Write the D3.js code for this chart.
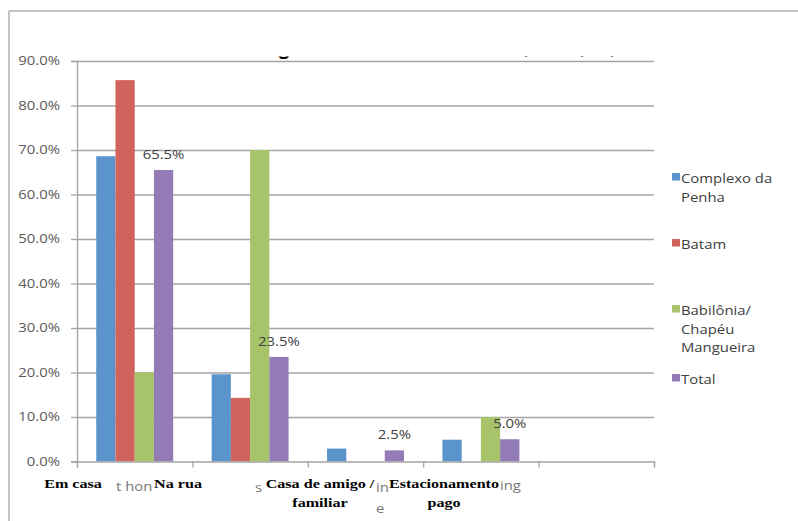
<!DOCTYPE html>
<html>
<head>
<meta charset="utf-8">
<script src="https://cdn.jsdelivr.net/npm/d3@7"></script>
<style>
  body { margin: 0; background: #fff; }
  svg { display: block; }
</style>
</head>
<body>
<div id="chart"></div>
<script>
const width = 798;
const height = 521;

// data (percent)
const categories = ["Em casa", "Na rua", "Casa de amigo / familiar", "Estacionamento pago", ""];
const seriesNames = ["Complexo da Penha", "Batam", "Babilônia/ Chapéu Mangueira", "Total"];
const complexo = [68.6, 19.6, 2.9, 4.9, 0];
const batam = [85.7, 14.3, 0, 0, 0];
const babilonia = [20.0, 70.0, 0, 10.0, 0];
const total = [65.5, 23.5, 2.5, 5.0, 0];
const yTicks = [0, 10, 20, 30, 40, 50, 60, 70, 80, 90];
const legendLines = [["Complexo da", "Penha"], ["Batam"], ["Babilônia/", "Chapéu", "Mangueira"], ["Total"]];
const colors = ["#5b93cc", "#d0635c", "#a7c46a", "#937bb5"];

const series = [complexo, batam, babilonia, total];

// the whole picture is stretched sideways a bit
const SX = 1.24;
const sans = "'Open Sans', sans-serif";
const serif = "'Liberation Serif', 'Times New Roman', serif";

const margin = {left: 77, right: 144, top: 61, bottom: 59};
const plotW = width - margin.left - margin.right;

const svg = d3.select("#chart").append("svg")
    .attr("width", width)
    .attr("height", height);

const stext = (parent, x, y, str, o = {}) => {
    parent.append("g")
        .attr("transform", `translate(${x},${y}) scale(${SX},1)`)
        .append("text")
        .attr("text-anchor", o.anchor || "start")
        .style("font-family", o.font || sans)
        .style("font-size", (o.size || 12) + "px")
        .style("font-weight", o.weight || "normal")
        .style("fill", o.fill || "#404040")
        .text(str);
};

// outer frame (top + left edges visible)
svg.append("line").attr("x1", 9).attr("x2", width).attr("y1", 11).attr("y2", 11)
    .attr("stroke", "#c4c4c4").attr("stroke-width", 2);
svg.append("line").attr("x1", 9).attr("x2", 9).attr("y1", 11).attr("y2", height)
    .attr("stroke", "#c4c4c4").attr("stroke-width", 2);

// title, mostly hidden: only the descenders peek out
const clip = svg.append("clipPath").attr("id", "titleclip");
clip.append("rect").attr("x", 0).attr("y", 56.5).attr("width", width).attr("height", 4);
const title = svg.append("g").attr("clip-path", "url(#titleclip)");
[["g", 284], [",", 527], [",", 583], [",", 613]].forEach(([c, x]) => {
    title.append("text").attr("x", x).attr("y", 54).attr("text-anchor", "middle")
        .style("font-family", sans).style("font-weight", "bold").style("font-size", "19px")
        .style("fill", "#000").text(c);
});

const x = d3.scaleBand().domain(categories).range([margin.left, margin.left + plotW]);
const xEdge = d3.scaleLinear().domain([0, categories.length]).range([margin.left, margin.left + plotW]);
const y = d3.scaleLinear().domain([0, 90]).range([height - margin.bottom - 0.5, margin.top]);
const sub = x.bandwidth() / 6;

// gridlines
svg.append("g")
    .attr("transform", `translate(${margin.left},0)`)
    .call(d3.axisLeft(y).tickValues(yTicks.slice(1)).tickSize(-plotW).tickFormat(""))
    .call(g => g.select(".domain").remove())
    .call(g => g.selectAll("line").attr("stroke", "#a4a4a4").attr("stroke-width", 1.3));

// y axis
const yAxis = svg.append("g")
    .attr("transform", `translate(${margin.left},0)`)
    .call(d3.axisLeft(y).tickValues(yTicks).tickSize(6).tickFormat(""));
yAxis.select(".domain").attr("stroke", "#a4a4a4").attr("stroke-width", 1.3);
yAxis.selectAll("line").attr("stroke", "#a4a4a4").attr("stroke-width", 1.3);
yTicks.forEach(t => stext(svg, margin.left - 17, y(t) + 4, t.toFixed(1) + "%", {anchor: "end", fill: "#595959"}));

// bars
series.forEach((vals, si) => {
    svg.append("g").selectAll("rect")
        .data(vals.map((v, i) => ({c: categories[i], v})).filter(d => d.v > 0))
        .join("rect")
        .attr("x", d => x(d.c) + sub * (1 + si))
        .attr("width", sub)
        .attr("y", d => y(d.v))
        .attr("height", d => y(0) - y(d.v))
        .attr("fill", colors[si]);
});

// x axis
const xAxis = svg.append("g")
    .attr("transform", `translate(0,${y(0)})`)
    .call(d3.axisBottom(xEdge).ticks(categories.length).tickSize(6).tickFormat(""));
xAxis.select(".domain").attr("stroke", "#a4a4a4").attr("stroke-width", 1.3);
xAxis.selectAll("line").attr("stroke", "#a4a4a4").attr("stroke-width", 1.3);

// data labels on Total
total.forEach((v, i) => {
    if (v <= 0) return;
    stext(svg, x(categories[i]) + sub * 4.5, y(v) - 11, v.toFixed(1) + "%", {anchor: "middle"});
});

// remnants of the original axis labels
[["t hon", 116, 491], ["s", 255, 492], ["in", 376, 492], ["e", 376, 513], ["ing", 500, 490]]
    .forEach(([t, px, py]) => stext(svg, px, py, t, {fill: "#777", size: 12}));

// Portuguese labels pasted over the axis
const labelPos = [[73, [488]], [178, [488]], [320, [488, 507]], [444, [488, 507]]];
categories.slice(0, 4).forEach((c, i) => {
    const lines = c === "Casa de amigo / familiar" ? ["Casa de amigo /", "familiar"]
        : c === "Estacionamento pago" ? ["Estacionamento", "pago"] : [c];
    lines.forEach((ln, j) => stext(svg, labelPos[i][0], labelPos[i][1][j], ln,
        {anchor: "middle", font: serif, weight: "bold", size: 13, fill: "#000"}));
});

// legend
const legendTops = [173, 239, 305, 374];
legendLines.forEach((lines, i) => {
    svg.append("rect").attr("x", 672).attr("y", legendTops[i]).attr("width", 8).attr("height", 7.5)
        .attr("fill", colors[i]);
    lines.forEach((ln, j) => stext(svg, 681, legendTops[i] + 10 + j * 18.5, ln));
});
</script>
</body>
</html>
